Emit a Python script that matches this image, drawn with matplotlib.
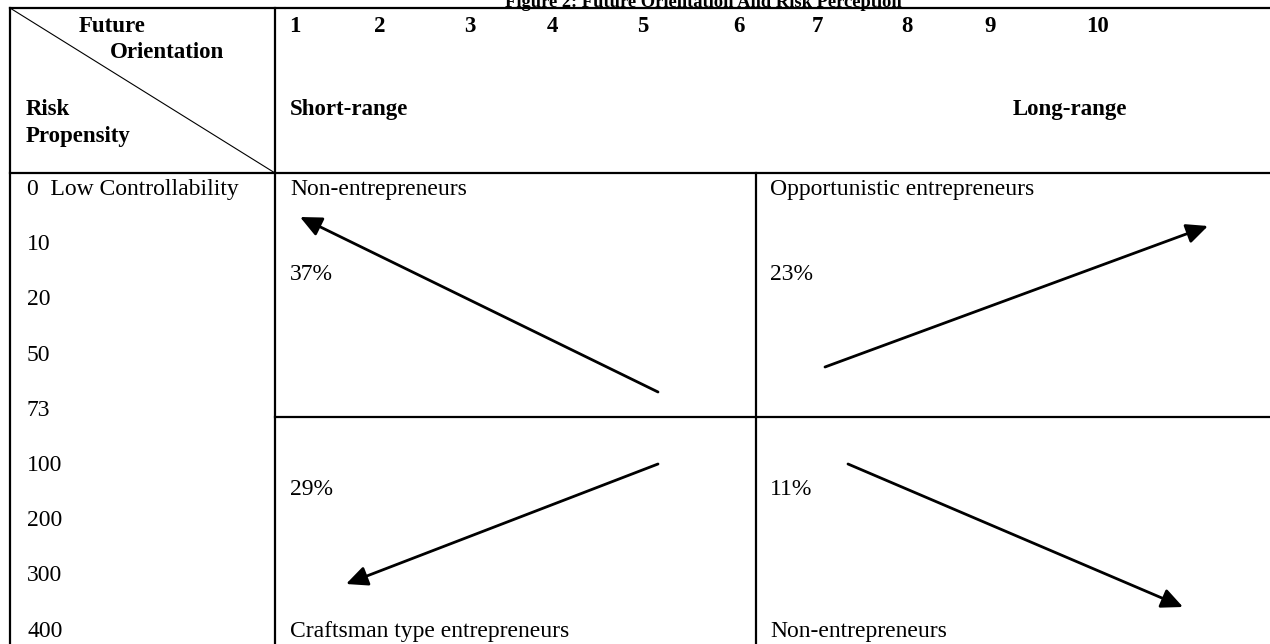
import matplotlib
matplotlib.use('Agg')
import matplotlib.pyplot as plt

# chart content
title = 'Figure 2: Future Orientation And Risk Perception'
orientation_scale = ['1', '2', '3', '4', '5', '6', '7', '8', '9', '10']
range_labels = ['Short-range', 'Long-range']
risk_scale = ['0  Low Controllability', '10', '20', '50', '73', '100', '200', '300', '400']
quadrant_types = ['Non-entrepreneurs', 'Opportunistic entrepreneurs',
                  'Craftsman type entrepreneurs', 'Non-entrepreneurs']
quadrant_shares = ['37%', '23%', '29%', '11%']

# layout, in pixels of the 1270x644 picture (y grows downward)
W, H = 1270, 644
x_left, x_col, x_mid = 10, 275, 756
y_top, y_head, y_mid = 8, 173, 417
scale_x = [295, 380, 470, 552, 643, 739, 817, 907, 990, 1097]
range_x = [290, 1013]
row_base0, row_step = 195, 55.2
quad_x = [290, 770, 290, 770]
type_base = [195, 195, 637, 637]
share_base = [280, 280, 495, 495]
arrows = [((658, 392), (300, 217)),
          ((825, 367), (1208, 226)),
          ((658, 464), (346, 584)),
          ((848, 464), (1183, 607))]

plt.rcParams['font.family'] = ['Liberation Serif', 'DejaVu Serif']
fs_bold = 16.5
fs = 17

fig = plt.figure(figsize=(W / 100, H / 100), dpi=100)
ax = fig.add_axes([0, 0, 1, 1])
ax.set_xlim(0, W)
ax.set_ylim(H, 0)
ax.axis('off')

# table grid
lw = 1.6
ax.plot([x_left, W], [y_top, y_top], color='black', lw=lw)
ax.plot([x_left, W], [y_head, y_head], color='black', lw=lw)
ax.plot([x_col, W], [y_mid, y_mid], color='black', lw=lw)
ax.plot([x_left, x_left], [y_top, H], color='black', lw=lw)
ax.plot([x_col, x_col], [y_top, H], color='black', lw=lw)
ax.plot([x_mid, x_mid], [y_head, H], color='black', lw=lw)
ax.plot([x_left, x_col], [y_top, y_head], color='black', lw=0.8)

# title, cut by the top edge as in the scan
ax.text(703, 6.5, title, ha='center', va='baseline', fontsize=13.3, fontweight='bold')

# corner cell
ax.text(79, 32, 'Future', ha='left', va='baseline', fontsize=fs_bold, fontweight='bold')
ax.text(110, 58, 'Orientation', ha='left', va='baseline', fontsize=fs_bold, fontweight='bold')
ax.text(26, 115, 'Risk', ha='left', va='baseline', fontsize=fs_bold, fontweight='bold')
ax.text(26, 142, 'Propensity', ha='left', va='baseline', fontsize=fs_bold, fontweight='bold')

# future orientation scale
for lab, x in zip(orientation_scale, scale_x):
    ax.text(x, 32, lab, ha='center', va='baseline', fontsize=fs_bold, fontweight='bold')
for lab, x in zip(range_labels, range_x):
    ax.text(x, 115, lab, ha='left', va='baseline', fontsize=fs_bold, fontweight='bold')

# risk propensity scale
for i, lab in enumerate(risk_scale):
    ax.text(27, row_base0 + i * row_step, lab, ha='left', va='baseline', fontsize=fs)

# quadrants
for name, share, x, yb, ys in zip(quadrant_types, quadrant_shares, quad_x, type_base, share_base):
    ax.text(x, yb, name, ha='left', va='baseline', fontsize=fs)
    ax.text(x, ys, share, ha='left', va='baseline', fontsize=fs)

for start, end in arrows:
    ax.annotate('', xy=end, xytext=start,
                arrowprops=dict(arrowstyle='-|>,head_length=0.65,head_width=0.3',
                                mutation_scale=20, lw=2.0, color='black',
                                shrinkA=0, shrinkB=0))

fig.savefig('out.png', dpi=100)
